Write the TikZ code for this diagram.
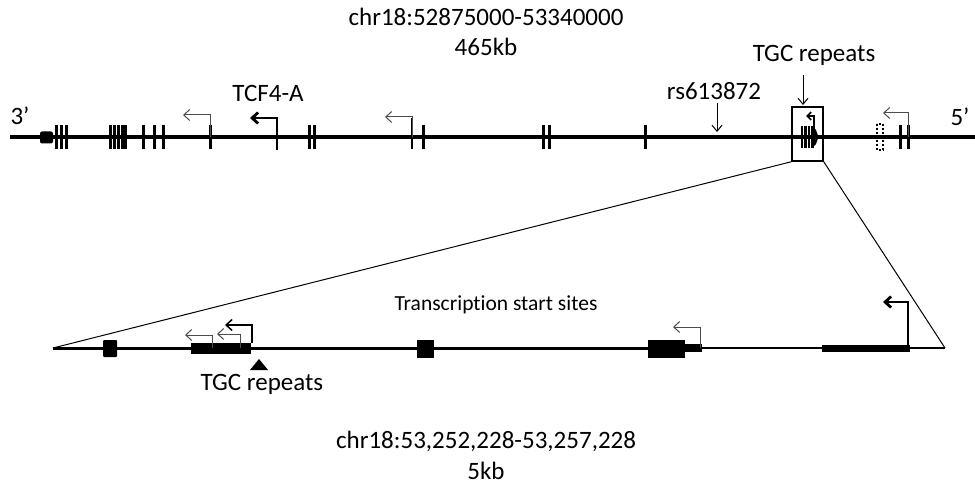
\documentclass[tikz,border=0pt]{standalone}
\usepackage{fontspec}
\setmainfont{Carlito}[Ligatures=NoCommon]
\usetikzlibrary{arrows.meta}
\begin{document}
\begin{tikzpicture}[x=1pt,y=-1pt,
  chrom/.style={line width=3.3pt},
  exon/.style={line width=3pt},
  thinmark/.style={line width=1.2pt},
  tss/.style={line width=1pt, draw=black!70, -{Straight Barb[length=6pt,width=11pt]}},
  tssbold/.style={line width=2.8pt, -{Straight Barb[length=6pt,width=11pt]}},
  ptr/.style={line width=1pt, -{Straight Barb[length=6pt,width=10pt]}},
  lbl/.style={font=\fontsize{25}{29}\selectfont, inner sep=0pt},
  small/.style={font=\fontsize{21.5}{25}\selectfont, inner sep=0pt}]
\useasboundingbox (0,0) rectangle (975,489);

% labels
\node[lbl] (title)  at (486,17)  {chr18:52875000-53340000};
\node[lbl] (size)   at (486,47)  {465kb};
\node[lbl] (tgctop) at (814,55)  {TGC repeats};
\node[lbl] (tcf)    at (268,93)  {TCF4-A};
\node[lbl] (rs)     at (714,91)  {rs613872};
\node[lbl] (three)  at (20,116)  {3’};
\node[lbl] (five)   at (960,117) {5’};

% whole locus
\coordinate (tl) at (10,137);
\coordinate (tr) at (975,137);
\draw[chrom] (tl) -- (tr);
\fill[rounded corners=2pt] (40,131.5) rectangle (53,143.5);
\foreach \x in {56,61,66,110,114,118,122,125.5,143,154,163,210,309,314,423,543,549,645,900,908}
  \draw[exon] (\x,125) -- (\x,149);
\draw[thinmark] (277,124) -- (277,150);
\draw[thinmark] (412,118) -- (412,149);
\draw[dash pattern=on 2pt off 2pt, line width=1.6pt] (877,124) rectangle (883,150);

% promoters on the locus
\draw[tss] (210,137) -- (210,115) -- (183,115);
\draw[tssbold] (277,137) -- (277,118) -- (250,118);
\draw[tss] (412,137) -- (412,117) -- (385,117);
\draw[tss] (908,137) -- (908,113) -- (883,113);

% zoomed window
\node[draw, line width=1.5pt, minimum width=31pt, minimum height=54pt, inner sep=0pt] (zoombox) at (807.5,134) {};
\foreach \x in {802,805.5,809,812.5}
  \draw[line width=2.2pt] (\x,126) -- (\x,148);
\fill (813,127) -- (816,130) -- (818.5,137) -- (816,144) -- (813,147) -- cycle;
\draw[line width=1.6pt, -{Straight Barb[length=4pt,width=8pt]}] (814,137) -- (814,116) -- (806,116);

% pointers
\draw[ptr] (803,75) -- (803,105);
\draw[ptr] (717,103) -- (717,132);

% enlarged region
\coordinate (bl) at (53,348);
\coordinate (bm) at (702,348);
\coordinate (br) at (945,348);
\draw[line width=1pt] (zoombox.south west) -- (bl);
\draw[line width=1pt] (zoombox.south east) -- (br);
\draw[line width=3pt] (bl) -- (bm);
\draw[line width=2pt] (bm) -- (br);

\fill[rounded corners=1pt] (103,340) rectangle (117,357);
\fill (191,343) rectangle (251,354);
\fill (417,340) rectangle (434,358);
\fill (648,340) rectangle (685,358);
\fill (685,344) rectangle (702,352);
\fill (822,345) rectangle (910,352);
\fill (259,359) -- (268,370) -- (250,370) -- cycle;

\draw[tss] (212,348) -- (212,335) -- (185,335);
\draw[tss] (240,348) -- (240,334) -- (217,334);
\draw[line width=1.5pt, -{Straight Barb[length=6pt,width=11pt]}] (252,343) -- (252,325) -- (225,325);
\draw[tss] (700,348) -- (700,327) -- (673,327);
\draw[tssbold] (908,348) -- (908,302) -- (883,302);

\node[small] (tss) at (496,305) {Transcription start sites};
\node[lbl] (tgcbot) at (262,384) {TGC repeats};
\node[lbl] (title2) at (486,441) {chr18:53,252,228-53,257,228};
\node[lbl] (size2)  at (486,471) {5kb};
\end{tikzpicture}
\end{document}
